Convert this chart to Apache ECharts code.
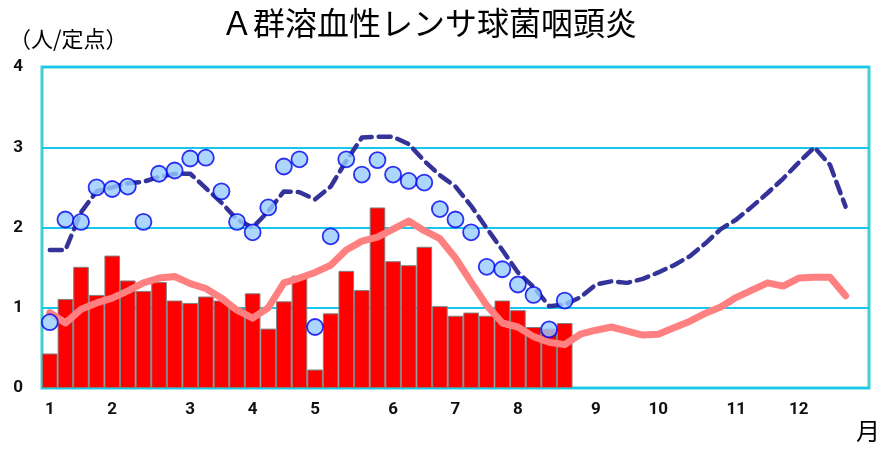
<!DOCTYPE html>
<html>
<head>
<meta charset="utf-8">
<script src="https://cdn.jsdelivr.net/npm/echarts@6/dist/echarts.min.js"></script>
<style>
  html, body { margin: 0; padding: 0; background: #ffffff; }
  #chart { width: 894px; height: 457px; }
</style>
</head>
<body>
<div id="chart"></div>
<script>
// Weekly reports per sentinel site (53 week slots)
const weekCount = 53;

// Month tick labels and the week slot each one sits under
const monthLabels = ['1', '2', '3', '4', '5', '6', '7', '8', '9', '10', '11', '12'];
const monthWeekIndex = [0, 4, 9, 13, 17, 22, 26, 30, 35, 39, 44, 48];

// Current-year weekly values (bars)
const barValues = [0.43, 1.11, 1.51, 1.16, 1.65, 1.34, 1.21, 1.32, 1.09, 1.06,
  1.14, 1.09, 1.00, 1.18, 0.74, 1.08, 1.40, 0.23, 0.93, 1.46,
  1.22, 2.25, 1.58, 1.53, 1.76, 1.02, 0.90, 0.94, 0.90, 1.09,
  0.97, 0.76, 0.74, 0.81];

// Weekly values shown as circles
const circleValues = [0.82, 2.10, 2.07, 2.50, 2.48, 2.51, 2.07, 2.67, 2.71, 2.86,
  2.87, 2.45, 2.07, 1.94, 2.25, 2.76, 2.85, 0.76, 1.89, 2.85,
  2.66, 2.84, 2.66, 2.58, 2.56, 2.23, 2.10, 1.94, 1.51, 1.48,
  1.29, 1.16, 0.73, 1.09];

// Dashed navy line
const dashedValues = [1.72, 1.72, 2.19, 2.45, 2.50, 2.55, 2.57, 2.63, 2.67, 2.67,
  2.49, 2.31, 2.10, 2.00, 2.20, 2.45, 2.44, 2.35, 2.51, 2.83,
  3.12, 3.13, 3.13, 3.04, 2.83, 2.65, 2.51, 2.27, 1.99, 1.72,
  1.44, 1.26, 1.02, 1.04, 1.13, 1.29, 1.33, 1.31, 1.36, 1.44,
  1.53, 1.64, 1.80, 1.98, 2.10, 2.26, 2.43, 2.61, 2.81, 3.00,
  2.78, 2.26];

// Thick pink line
const pinkValues = [0.94, 0.81, 0.98, 1.06, 1.12, 1.21, 1.31, 1.37, 1.39, 1.30,
  1.24, 1.12, 0.97, 0.87, 1.00, 1.31, 1.37, 1.44, 1.53, 1.72,
  1.83, 1.88, 1.98, 2.08, 1.96, 1.86, 1.62, 1.32, 1.03, 0.81,
  0.76, 0.64, 0.57, 0.54, 0.67, 0.72, 0.76, 0.71, 0.66, 0.67,
  0.75, 0.83, 0.93, 1.01, 1.13, 1.22, 1.31, 1.27, 1.37, 1.38,
  1.38, 1.15];

const weeks = Array.from({ length: weekCount }, (_, i) => String(i + 1));
const tickText = {};
monthWeekIndex.forEach((w, i) => { tickText[w] = monthLabels[i]; });

const chart = echarts.init(document.getElementById('chart'), null, { renderer: 'canvas' });

const labelFont = 'Roboto, "Noto Sans", sans-serif';
const cjkFont = '"Noto Sans CJK JP", "Noto Sans", sans-serif';

chart.setOption({
  animation: false,
  backgroundColor: '#ffffff',
  title: {
    text: 'Ａ群溶血性レンサ球菌咽頭炎',
    left: 424,
    top: 2,
    textAlign: 'center',
    textStyle: { fontFamily: cjkFont, fontSize: 32, fontWeight: 'normal', color: '#000000' }
  },
  graphic: [
    {
      type: 'text', left: 9, top: 28,
      style: { text: '（人/定点）', font: 'normal 22px ' + cjkFont, fill: '#000000' }
    },
    {
      type: 'text', left: 856, top: 419,
      style: { text: '月', font: 'normal 24px ' + cjkFont, fill: '#000000' }
    }
  ],
  grid: {
    left: 42, right: 25, top: 67, bottom: 69,
    show: true, borderColor: '#3fd0d0', borderWidth: 3, backgroundColor: 'transparent'
  },
  xAxis: {
    type: 'category',
    data: weeks,
    boundaryGap: true,
    axisLine: { show: false },
    axisTick: { show: false },
    splitLine: { show: false },
    axisLabel: {
      interval: 0,
      margin: 13,
      fontFamily: labelFont,
      fontSize: 17,
      fontWeight: 'bold',
      color: '#111111',
      formatter: (v, idx) => tickText[idx] || ''
    }
  },
  yAxis: {
    type: 'value',
    min: 0, max: 4, interval: 1,
    axisLine: { show: false },
    axisTick: { show: false },
    splitLine: { show: true, lineStyle: { color: '#16c8f0', width: 2 } },
    axisLabel: {
      margin: 19,
      fontFamily: labelFont,
      fontSize: 17,
      fontWeight: 'bold',
      color: '#111111'
    }
  },
  series: [
    {
      type: 'bar',
      data: barValues,
      barWidth: '100%',
      barCategoryGap: '0%',
      itemStyle: { color: '#ff0000', borderColor: '#808080', borderWidth: 1 },
      z: 2
    },
    {
      type: 'line',
      data: pinkValues,
      symbol: 'none',
      lineStyle: { color: '#ff8080', width: 7, cap: 'round', join: 'round' },
      z: 3
    },
    {
      type: 'line',
      data: dashedValues,
      symbol: 'none',
      lineStyle: { color: '#333399', width: 4.5, type: [12, 7], cap: 'round', join: 'round' },
      z: 4
    },
    {
      type: 'scatter',
      data: circleValues,
      symbol: 'circle',
      symbolSize: 16,
      itemStyle: { color: '#99ccff', borderColor: '#0000ee', borderWidth: 1.8 },
      z: 5
    }
  ]
});
</script>
</body>
</html>
